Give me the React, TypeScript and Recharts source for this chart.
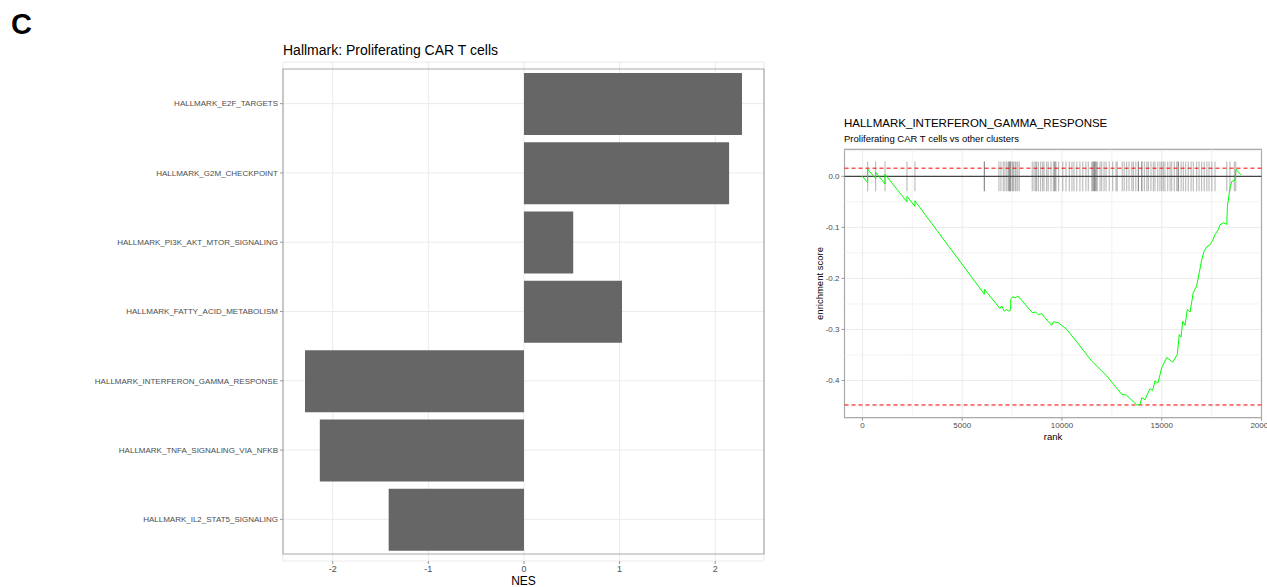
import {
  BarChart, Bar, LineChart, Line, XAxis, YAxis, CartesianGrid,
  ReferenceArea, ReferenceLine, Label,
} from 'recharts'

// left panel: hallmark NES
const pathways = [
  'HALLMARK_E2F_TARGETS',
  'HALLMARK_G2M_CHECKPOINT',
  'HALLMARK_PI3K_AKT_MTOR_SIGNALING',
  'HALLMARK_FATTY_ACID_METABOLISM',
  'HALLMARK_INTERFERON_GAMMA_RESPONSE',
  'HALLMARK_TNFA_SIGNALING_VIA_NFKB',
  'HALLMARK_IL2_STAT5_SIGNALING',
]
const nes = [2.28, 2.145, 0.515, 1.025, -2.29, -2.135, -1.415]
const nesTicks = [-2, -1, 0, 1, 2]
const nesDomain = [-2.52, 2.51]

// right panel: running enrichment score
const esRank = [
  0, 260, 260, 660, 660, 1130, 1130, 2230, 2230, 2630, 2630, 6110, 6110,
  6890, 6980, 7110, 7230, 7310, 7430, 7430, 7530, 7650, 7780, 7850,
  8510, 8680, 8810, 8980, 9150, 9480, 9570, 9820, 10240, 10570, 11490,
  12240, 12990, 13240, 13750, 13910, 14000, 14160, 14410, 14540, 14660,
  14810, 15000, 15250, 15550, 15780, 15880, 15970, 16050, 16170, 16280,
  16420, 16580, 16750, 16880, 17000, 17120, 17260, 17420, 17560, 17670,
  17840, 17920, 18090, 18260, 18290, 18420, 18510, 18670, 18720, 18960,
]
const esScore = [
  0, -0.012, 0.014, -0.004, 0.008, -0.015, 0.004, -0.05, -0.039, -0.059, -0.048, -0.231, -0.221,
  -0.259, -0.254, -0.264, -0.261, -0.264, -0.262, -0.241, -0.236, -0.238, -0.235, -0.237,
  -0.267, -0.266, -0.271, -0.269, -0.277, -0.292, -0.285, -0.287, -0.3, -0.316, -0.362,
  -0.391, -0.427, -0.429, -0.448, -0.447, -0.434, -0.438, -0.416, -0.42, -0.401,
  -0.405, -0.375, -0.355, -0.364, -0.349, -0.31, -0.315, -0.284, -0.292, -0.261,
  -0.266, -0.228, -0.215, -0.189, -0.164, -0.147, -0.138, -0.134, -0.125, -0.114,
  -0.104, -0.095, -0.091, -0.094, -0.059, -0.023, -0.01, -0.008, 0.014, 0.003,
]
const hitRanks = [
  260, 660, 1130, 2230, 2630, 6110, 6110, 6840, 6940, 7060, 7140, 7230, 7310, 7360, 7360,
  7430, 7430, 7530, 7560, 7650, 7700, 7780, 7860, 8510, 8600, 8680, 8730, 8820, 8930,
  9030, 9100, 9230, 9310, 9450, 9570, 9640, 9640, 9700, 9830, 10040, 10200, 10370,
  10500, 10600, 10740, 10900, 11040, 11200, 11320, 11490, 11560, 11560, 11630, 11630,
  11700, 11700, 11770, 11910, 11990, 12110, 12210, 12370, 12540, 12710, 12770, 13020,
  13120, 13240, 13360, 13500, 13580, 13700, 13830, 13830, 14000, 14000, 14130, 14250,
  14330, 14460, 14580, 14660, 14800, 14910, 15000, 15080, 15160, 15300, 15420, 15500,
  15630, 15750, 15830, 15830, 15970, 16080, 16200, 16330, 16470, 16580, 16750, 16870,
  17000, 17130, 17260, 17370, 17510, 17670, 18260, 18420, 18640, 18710,
]
const rankTicks = [0, 5000, 10000, 15000, 20000]
const rankMinor = [2500, 7500, 12500, 17500]
const esTicks = [0, -0.1, -0.2, -0.3, -0.4]
const esMinor = [0.05, -0.05, -0.15, -0.25, -0.35, -0.45]
const maxES = 0.016
const minES = -0.448
const rankDomain = [-900, 20000]
const esDomain = [-0.473, 0.053]

const FONT = 'Arial, "Liberation Sans", sans-serif'
const BORDER = '#aaaaaa'

export default function App() {
  const barData = pathways.map((p, i) => ({ pathway: p, nes: nes[i] }))
  const curve = esRank.map((r, i) => ({ rank: r, es: esScore[i] }))

  return (
    <div style={{ position: 'absolute', left: 0, top: 0, width: 1267, height: 587, overflow: 'hidden', background: '#fff', fontFamily: FONT }}>
      <div style={{ position: 'absolute', left: 11, top: 7, fontSize: 29, fontWeight: 'bold', lineHeight: '35px' }}>C</div>
      <div style={{ position: 'absolute', left: 283, top: 41, fontSize: 14, lineHeight: '18px' }}>Hallmark: Proliferating CAR T cells</div>

      <div style={{ position: 'absolute', left: 0, top: 0 }}>
        <BarChart width={780} height={587} data={barData} layout="vertical" barSize={62}
          margin={{ top: 62, right: 16, bottom: 0, left: 0 }}>
          <CartesianGrid stroke="#ebebeb" />
          <XAxis type="number" domain={nesDomain} ticks={nesTicks} allowDataOverflow interval={0}
            height={26} tickSize={3} tickMargin={2} axisLine={false}
            tickLine={{ stroke: '#999' }} tick={{ fontSize: 9, fill: '#4d4d4d' }}>
            <Label value="NES" position="insideBottom" offset={2} fontSize={12} fill="#000" />
          </XAxis>
          <YAxis type="category" dataKey="pathway" width={283} padding={{ top: 7, bottom: 7 }}
            tickSize={3} tickMargin={2} axisLine={false} interval={0}
            tickLine={{ stroke: '#999' }} tick={{ fontSize: 8, fill: '#4d4d4d' }} />
          <Bar dataKey="nes" fill="#666666" isAnimationActive={false} />
          <ReferenceArea x1={nesDomain[0]} x2={nesDomain[1]} fill="none" fillOpacity={0}
            stroke={BORDER} strokeWidth={1.2} ifOverflow="visible" />
        </BarChart>
      </div>

      <div style={{ position: 'absolute', left: 844, top: 116, fontSize: 11.5, lineHeight: '15px' }}>HALLMARK_INTERFERON_GAMMA_RESPONSE</div>
      <div style={{ position: 'absolute', left: 844, top: 133, fontSize: 9.5, lineHeight: '12px' }}>Proliferating CAR T cells vs other clusters</div>

      <div style={{ position: 'absolute', left: 790, top: 100 }}>
        <LineChart width={500} height={345} data={curve}
          margin={{ top: 49.3, right: 28.5, bottom: 0, left: 5 }}>
          <CartesianGrid stroke="#ebebeb" />
          {rankMinor.map(v => (
            <ReferenceLine key={'rx' + v} x={v} stroke="#ebebeb" strokeWidth={0.6} />
          ))}
          {esMinor.map(v => (
            <ReferenceLine key={'ry' + v} y={v} stroke="#ebebeb" strokeWidth={0.6} />
          ))}
          <XAxis type="number" dataKey="rank" domain={rankDomain} ticks={rankTicks} allowDataOverflow
            interval={0} height={27.3} tickSize={3} tickMargin={2} axisLine={false}
            tickLine={{ stroke: '#999' }} tick={{ fontSize: 8, fill: '#4d4d4d' }}>
            <Label value="rank" position="insideBottom" offset={5} fontSize={9.5} fill="#000" />
          </XAxis>
          <YAxis type="number" domain={esDomain} ticks={esTicks} allowDataOverflow interval={0}
            width={49.5} tickSize={3} tickMargin={2} axisLine={false}
            tickFormatter={(v: number) => v.toFixed(1)}
            tickLine={{ stroke: '#999' }} tick={{ fontSize: 8, fill: '#4d4d4d' }}>
            <Label value="enrichment score" position="center" angle={-90} fontSize={9.5} fill="#000" />
          </YAxis>
          {hitRanks.map((r, i) => (
            <ReferenceLine key={'h' + i} segment={[{ x: r, y: -0.029 }, { x: r, y: 0.029 }]}
              stroke="#000" strokeOpacity={0.26} strokeWidth={1.2} />
          ))}
          <ReferenceLine y={0} stroke="#444" strokeWidth={1.2} />
          <ReferenceLine y={maxES} stroke="#ff0000" strokeDasharray="4 3" />
          <ReferenceLine y={minES} stroke="#ff0000" strokeDasharray="4 3" />
          <Line type="linear" dataKey="es" stroke="#00ff00" strokeWidth={1} dot={false} isAnimationActive={false} />
          <ReferenceArea x1={rankDomain[0]} x2={rankDomain[1]} y1={esDomain[0]} y2={esDomain[1]}
            fill="none" fillOpacity={0} stroke={BORDER} strokeWidth={1.2} ifOverflow="visible" />
        </LineChart>
      </div>
    </div>
  )
}
